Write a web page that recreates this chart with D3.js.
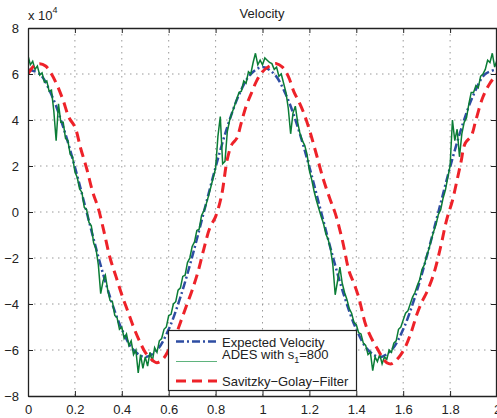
<!DOCTYPE html>
<html>
<head>
<meta charset="utf-8">
<script src="https://cdn.jsdelivr.net/npm/d3@7"></script>
<style>
  body { margin: 0; background: #fff; }
  svg { display: block; font-family: "Liberation Sans", Arial, sans-serif; }
</style>
</head>
<body>
<div id="chart"></div>
<script>
// Velocity values are in units of 10^4

const xTicks = [0, 0.2, 0.4, 0.6, 0.8, 1, 1.2, 1.4, 1.6, 1.8, 2];
const xTickLabels = ["0", "0.2", "0.4", "0.6", "0.8", "1", "1.2", "1.4", "1.6", "1.8", "2"];
const yTicks = [-8, -6, -4, -2, 0, 2, 4, 6, 8];
const yTickLabels = ["\u22128", "\u22126", "\u22124", "\u22122", "0", "2", "4", "6", "8"];

const seriesNames = ["Expected Velocity", "ADES with s", "Savitzky\u2212Golay\u2212Filter"];

// expected velocity, sampled every 0.05
const expectedStep = 0.05;
const expectedV = [6.2, 6.0, 5.1, 3.7, 1.95, 0, -1.95, -3.7, -5.1, -6.0, -6.3,
  -6.0, -5.1, -3.7, -1.95, 0, 1.95, 3.7, 5.1, 6.0, 6.3,
  6.0, 5.1, 3.7, 1.95, 0, -1.95, -3.7, -5.1, -6.0, -6.3,
  -6.0, -5.1, -3.7, -1.95, 0, 1.95, 3.7, 5.1, 6.0, 6.2];

// ADES estimate, sampled every 0.01
const adesStep = 0.01;
const adesV = [6.8, 6.4, 6.55, 6.2, 6.35, 5.95, 6.05, 5.65, 5.7, 5.25,
  5.3, 4.4, 3.1, 4.7, 3.9, 3.9, 3.2, 3.1, 2.5, 2.4,
  1.75, 1.5, 1.0, 0.85, 0.2, 0.1, -0.45, -0.6, -1.35, -1.6,
  -2.3, -3.55, -3.0, -2.75, -3.4, -3.85, -3.9, -4.5, -4.6, -5.1,
  -5.0, -5.5, -5.3, -5.8, -5.6, -6.2, -6.0, -7.0, -6.2, -6.8,
  -6.3, -6.7, -6.1, -6.5, -5.9, -6.1, -5.6, -5.5, -5.1, -5.0,
  -4.5, -4.45, -4.0, -3.9, -3.4, -3.3, -2.8, -2.75, -2.2, -2.0,
  -1.5, -1.3, -0.8, -0.75, -0.15, 0.05, 0.35, 0.7, 1.1, 1.5,
  1.9, 3.3, 4.15, 2.1, 2.2, 3.5, 4.0, 4.3, 4.6, 4.9,
  5.2, 5.25, 5.7, 5.6, 6.1, 6.0, 6.5, 6.9, 6.4, 6.6,
  6.4, 6.7, 6.6, 6.5, 6.45, 6.2, 6.3, 5.9, 6.0, 5.6,
  5.2, 4.5, 3.4, 4.3, 4.6, 3.9, 3.4, 3.1, 2.9, 2.5,
  1.8, 1.4, 0.9, 0.5, 0.15, -0.2, -0.5, -0.95, -1.2, -1.6,
  -2.3, -3.6, -3.0, -2.4, -3.1, -3.5, -3.8, -4.2, -4.4, -4.8,
  -4.9, -5.25, -5.3, -5.7, -5.8, -6.2, -6.1, -6.9, -6.3, -6.5,
  -6.2, -6.6, -6.3, -6.4, -6.0, -6.1, -5.7, -5.6, -5.1, -5.0,
  -4.7, -4.4, -4.3, -4.0, -3.7, -3.5, -3.2, -2.95, -2.5, -2.3,
  -1.9, -1.6, -1.2, -0.85, -0.55, -0.1, 0.1, 0.6, 0.95, 1.5,
  2.0, 4.0, 3.1, 3.6, 2.4, 3.4, 3.9, 4.1, 4.7, 5.2,
  5.2, 5.5, 5.4, 5.9, 6.0, 6.2, 6.6, 6.5, 6.9, 6.3,
  6.6];

// Savitzky-Golay output
const sgT = [0, 0.025, 0.05, 0.075, 0.1, 0.125, 0.15, 0.175, 0.2, 0.225,
  0.25, 0.275, 0.3, 0.325, 0.35, 0.375, 0.4, 0.425, 0.45, 0.475,
  0.5, 0.525, 0.55, 0.575, 0.6, 0.625, 0.65, 0.675, 0.7, 0.725,
  0.75, 0.775, 0.8, 0.825, 0.85, 0.87, 0.89, 0.91, 0.93, 0.95,
  0.975, 1.0, 1.03, 1.06, 1.085, 1.11, 1.135, 1.155, 1.18, 1.205,
  1.23, 1.26, 1.29, 1.31, 1.34, 1.37, 1.39, 1.41, 1.44, 1.465,
  1.49, 1.51, 1.53, 1.55, 1.57, 1.59, 1.61, 1.635, 1.66, 1.68,
  1.7, 1.73, 1.76, 1.785, 1.81, 1.83, 1.845, 1.865, 1.89, 1.91,
  1.94, 1.97, 2.0];
const sgV = [6.0, 6.35, 6.45, 6.35, 6.0, 5.5, 4.85, 4.1, 3.7, 2.75,
  1.9, 0.9, 0.15, -0.9, -2.0, -2.8, -3.6, -4.3, -5.0, -5.6,
  -6.1, -6.4, -6.55, -6.4, -6.0, -5.5, -4.8, -4.1, -3.4, -2.6,
  -1.6, -0.7, -0.2, 0.7, 2.3, 2.95, 3.2, 3.9, 4.6, 5.1,
  5.7, 6.1, 6.35, 6.45, 6.3, 5.9, 5.2, 4.8, 4.2, 3.4,
  2.5, 1.4, 0.5, -0.05, -1.2, -2.6, -3.1, -3.7, -4.9, -5.5,
  -5.95, -6.3, -6.55, -6.6, -6.45, -6.2, -5.85, -5.2, -4.4, -3.9,
  -3.5, -2.7, -1.5, -0.35, 0.5, 1.4, 2.1, 3.0, 3.3, 4.0,
  5.0, 5.6, 6.0];

const width = 497, height = 418;
const margin = { top: 28, right: 0, bottom: 22, left: 28 };

const svg = d3.select("#chart")
  .append("svg")
  .attr("width", width)
  .attr("height", height);

const x = d3.scaleLinear().domain([0, 2]).range([margin.left, 497]);
const y = d3.scaleLinear().domain([-8, 8]).range([396, margin.top]);

// dotted grid
svg.append("g")
  .selectAll("line")
  .data(xTicks.slice(1, -1))
  .join("line")
  .attr("x1", d => x(d)).attr("x2", d => x(d))
  .attr("y1", y(8)).attr("y2", y(-8))
  .attr("stroke", "#999").attr("stroke-dasharray", "1.5,4.5");
svg.append("g")
  .selectAll("line")
  .data(yTicks.slice(1, -1))
  .join("line")
  .attr("x1", x(0)).attr("x2", x(2))
  .attr("y1", d => y(d)).attr("y2", d => y(d))
  .attr("stroke", "#999").attr("stroke-dasharray", "1.5,4.5");

svg.append("clipPath").attr("id", "clip")
  .append("rect")
  .attr("x", x(0)).attr("y", y(8))
  .attr("width", x(2) - x(0)).attr("height", y(-8) - y(8));

const plot = svg.append("g").attr("clip-path", "url(#clip)");

const expectedLine = d3.line()
  .x((d, i) => x(i * expectedStep))
  .y(d => y(d))
  .curve(d3.curveCatmullRom);
const adesLine = d3.line()
  .x((d, i) => x(i * adesStep))
  .y(d => y(d));
const sgLine = d3.line()
  .x((d, i) => x(sgT[i]))
  .y(d => y(d))
  .curve(d3.curveCatmullRom);

plot.append("path")
  .attr("d", expectedLine(expectedV))
  .attr("fill", "none")
  .attr("stroke", "#2e4da3")
  .attr("stroke-width", 2.5)
  .attr("stroke-dasharray", "8,3,2,3");

plot.append("path")
  .attr("d", adesLine(adesV))
  .attr("fill", "none")
  .attr("stroke", "#0b7d36")
  .attr("stroke-width", 1.5);

plot.append("path")
  .attr("d", sgLine(sgV))
  .attr("fill", "none")
  .attr("stroke", "#ee2229")
  .attr("stroke-width", 3)
  .attr("stroke-dasharray", "10,6");

// axes
const xAxisBottom = d3.axisBottom(x).tickValues(xTicks)
  .tickFormat((d, i) => xTickLabels[i]).tickSizeInner(-5).tickSizeOuter(0).tickPadding(9);
const xAxisTop = d3.axisTop(x).tickValues(xTicks)
  .tickFormat("").tickSizeInner(-5).tickSizeOuter(0);
const yAxisLeft = d3.axisLeft(y).tickValues(yTicks)
  .tickFormat((d, i) => yTickLabels[i]).tickSizeInner(-5).tickSizeOuter(0).tickPadding(9);
const yAxisRight = d3.axisRight(y).tickValues(yTicks)
  .tickFormat("").tickSizeInner(-5).tickSizeOuter(0);

svg.append("g").attr("transform", `translate(0,${y(-8)})`).call(xAxisBottom);
svg.append("g").attr("transform", `translate(0,${y(8)})`).call(xAxisTop);
svg.append("g").attr("transform", `translate(${x(0)},0)`).call(yAxisLeft);
svg.append("g").attr("transform", `translate(${x(2) - 1},0)`).call(yAxisRight);

svg.selectAll(".domain").attr("stroke", "#222").attr("stroke-width", 1.3);
svg.selectAll(".tick line").attr("stroke", "#222");
svg.selectAll(".tick text").attr("font-size", 13).attr("fill", "#222")
  .attr("font-family", "Liberation Sans, Arial, sans-serif");

// title and exponent
svg.append("text")
  .attr("x", 262).attr("y", 18)
  .attr("text-anchor", "middle")
  .attr("font-size", 13)
  .attr("fill", "#222")
  .text("Velocity");

const expo = svg.append("text")
  .attr("x", 28).attr("y", 20)
  .attr("font-size", 13)
  .attr("fill", "#222");
expo.append("tspan").text("x 10");
expo.append("tspan").attr("font-size", 9).attr("dy", -7).text("4");

// legend
const legend = svg.append("g");
legend.append("rect")
  .attr("x", 168.5).attr("y", 330.5)
  .attr("width", 188).attr("height", 60)
  .attr("fill", "#fff")
  .attr("stroke", "#222")
  .attr("stroke-width", 1.2);

legend.append("line")
  .attr("x1", 176).attr("x2", 217).attr("y1", 341.5).attr("y2", 341.5)
  .attr("stroke", "#2e4da3").attr("stroke-width", 2.5).attr("stroke-dasharray", "8,3,2,3");
legend.append("line")
  .attr("x1", 176).attr("x2", 217).attr("y1", 361.5).attr("y2", 361.5)
  .attr("stroke", "#5fb37d").attr("stroke-width", 1.2);
legend.append("line")
  .attr("x1", 176).attr("x2", 217).attr("y1", 381).attr("y2", 381)
  .attr("stroke", "#ee2229").attr("stroke-width", 3).attr("stroke-dasharray", "10,6");

legend.append("text")
  .attr("x", 222).attr("y", 346.5).attr("font-size", 13).attr("fill", "#222")
  .text(seriesNames[0]);
const ades = legend.append("text")
  .attr("x", 222).attr("y", 358.5).attr("font-size", 13).attr("fill", "#222");
ades.append("tspan").text(seriesNames[1]);
ades.append("tspan").attr("font-size", 9).attr("dy", 4).text("1");
ades.append("tspan").attr("dy", -4).text("=800");
legend.append("text")
  .attr("x", 222).attr("y", 385.5).attr("font-size", 13).attr("fill", "#222")
  .text(seriesNames[2]);
</script>
</body>
</html>
